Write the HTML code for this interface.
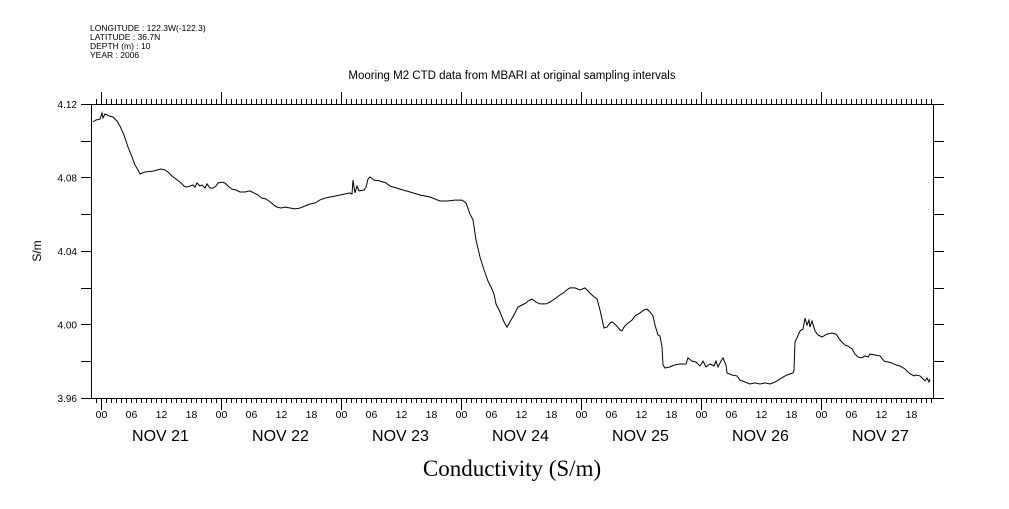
<!DOCTYPE html>
<html><head><meta charset="utf-8"><style>
body{margin:0;background:#fff;}
svg text{font-family:"Liberation Sans",sans-serif;fill:#000;}
</style></head><body>
<svg id="chart" width="1009" height="504" xmlns="http://www.w3.org/2000/svg">
<g font-size="8.5">
<text x="90" y="31">LONGITUDE : 122.3W(-122.3)</text>
<text x="90" y="40">LATITUDE : 36.7N</text>
<text x="90" y="49">DEPTH (m) : 10</text>
<text x="90" y="58">YEAR : 2006</text>
</g>
<text x="512" y="79" font-size="11.5" text-anchor="middle">Mooring M2 CTD data from MBARI at original sampling intervals</text>
<text transform="translate(41,251) rotate(-90)" font-size="12" text-anchor="middle">S/m</text>
<text x="512" y="476" font-size="23" text-anchor="middle" style="font-family:'Liberation Serif',serif">Conductivity (S/m)</text>
<g id="axes"></g>
<path id="line" fill="none" stroke="#000" stroke-width="1"/>
</svg>
<script>
const hours=[-1.5,-0.9,-0.1,0.3,0.5,0.9,1.7,2.5,3.3,3.9,4.7,5.5,6.3,6.9,7.5,7.9,8.9,10.5,12.1,12.9,13.5,14.3,15.1,15.9,16.7,17.1,17.9,18.5,18.9,19.3,19.9,20.3,20.9,21.3,21.9,22.5,23.1,23.5,24.3,24.9,25.5,26.3,27.1,27.9,28.9,29.9,30.7,31.5,32.3,33.1,33.9,34.7,35.3,36.1,36.9,37.9,38.9,39.9,40.9,41.9,42.9,43.9,44.9,45.9,46.9,47.9,48.9,49.9,50.3,50.5,50.9,51.3,51.7,52.7,53.1,53.5,53.9,54.7,55.9,57.1,57.9,59.9,61.9,63.9,65.9,67.9,69.3,70.9,72.3,73.1,73.9,74.5,75.1,75.9,76.7,77.5,78.1,78.7,79.1,79.9,80.7,81.3,81.9,82.7,83.5,84.3,85.1,85.5,86.3,87.1,87.9,89.1,89.9,91.1,91.9,92.5,93.5,93.9,94.9,95.9,96.9,97.9,98.7,99.3,99.9,100.3,100.7,101.3,101.9,102.3,103.1,103.9,104.3,104.7,105.3,106.3,106.9,107.9,108.7,109.3,109.9,110.5,110.9,111.5,111.9,112.3,112.5,112.9,113.9,114.9,115.9,117.1,117.5,118.3,119.1,119.9,120.5,121.1,121.9,122.7,123.1,123.5,124.1,124.5,125.1,125.3,126.3,127.3,127.9,128.9,129.9,130.9,131.9,132.9,133.9,134.9,135.9,136.9,137.9,138.5,138.7,138.9,139.3,139.9,140.5,140.9,141.3,141.7,141.9,142.3,142.9,143.5,144.3,145.3,146.3,147.1,147.9,148.9,149.5,150.3,150.9,151.5,152.3,152.9,153.5,153.9,154.9,155.9,156.7,157.5,158.3,159.1,159.9,160.9,161.7,162.7,163.1,163.9,164.3,164.9,165.3,165.7,165.9];
const values=[4.1102,4.1113,4.1118,4.1151,4.1124,4.1146,4.1135,4.1129,4.1107,4.1080,4.1031,4.0966,4.0912,4.0868,4.0841,4.0819,4.0830,4.0835,4.0846,4.0841,4.0830,4.0808,4.0792,4.0775,4.0754,4.0748,4.0754,4.0759,4.0748,4.0770,4.0754,4.0759,4.0743,4.0765,4.0743,4.0743,4.0754,4.0770,4.0775,4.0770,4.0754,4.0737,4.0732,4.0721,4.0721,4.0727,4.0716,4.0705,4.0688,4.0683,4.0667,4.0650,4.0639,4.0634,4.0639,4.0634,4.0629,4.0634,4.0645,4.0656,4.0661,4.0678,4.0688,4.0694,4.0699,4.0705,4.0710,4.0716,4.0710,4.0786,4.0716,4.0754,4.0727,4.0732,4.0748,4.0792,4.0803,4.0786,4.0781,4.0770,4.0754,4.0737,4.0721,4.0705,4.0694,4.0672,4.0672,4.0677,4.0677,4.0661,4.0601,4.0569,4.0460,4.0367,4.0297,4.0237,4.0204,4.0166,4.0112,4.0068,4.0014,3.9986,4.0014,4.0052,4.0095,4.0106,4.0117,4.0128,4.0139,4.0122,4.0112,4.0112,4.0122,4.0144,4.0161,4.0171,4.0193,4.0199,4.0199,4.0188,4.0199,4.0171,4.0150,4.0139,4.0079,4.0030,3.9981,3.9986,4.0008,4.0014,3.9997,3.9970,3.9965,3.9986,4.0003,4.0024,4.0046,4.0063,4.0079,4.0084,4.0068,4.0046,3.9997,3.9943,3.9937,3.9878,3.9780,3.9763,3.9769,3.9780,3.9785,3.9785,3.9818,3.9801,3.9796,3.9774,3.9801,3.9769,3.9785,3.9774,3.9801,3.9769,3.9801,3.9818,3.9780,3.9736,3.9725,3.9720,3.9698,3.9687,3.9676,3.9682,3.9676,3.9682,3.9676,3.9687,3.9703,3.9720,3.9731,3.9736,3.9752,3.9905,3.9927,3.9965,3.9975,4.0035,3.9997,4.0024,3.9986,4.0019,3.9965,3.9943,3.9932,3.9948,3.9954,3.9948,3.9916,3.9888,3.9883,3.9867,3.9839,3.9823,3.9818,3.9829,3.9823,3.9839,3.9834,3.9829,3.9801,3.9796,3.9790,3.9780,3.9774,3.9758,3.9736,3.9720,3.9725,3.9720,3.9709,3.9693,3.9709,3.9687,3.9703];
const yTicks=[3.96,4.00,4.04,4.08,4.12];
const yTickLabels=["3.96","4.00","4.04","4.08","4.12"];
const dayLabels=["NOV 21","NOV 22","NOV 23","NOV 24","NOV 25","NOV 26","NOV 27"];
const hourLabels=["00","06","12","18"];

const L=91,R=933,T=104,B=398;
const xs=h=>100.5+5*h;
const ys=v=>B-(v-3.96)/0.16*(B-T);
const NS="http://www.w3.org/2000/svg";
const ax=document.getElementById('axes');
function line(x1,y1,x2,y2,name){const e=document.createElementNS(NS,'line');e.setAttribute('x1',x1);e.setAttribute('y1',y1);e.setAttribute('x2',x2);e.setAttribute('y2',y2);e.setAttribute('stroke','#000');e.setAttribute('stroke-width','1');


ax.appendChild(e);return e;}
function text(x,y,s,size,anchor,name){const e=document.createElementNS(NS,'text');e.setAttribute('x',x);e.setAttribute('y',y);e.setAttribute('font-size',size);e.setAttribute('text-anchor',anchor);e.textContent=s;


ax.appendChild(e);}
const f=document.createElementNS(NS,'rect');f.setAttribute('x',L+0.5);f.setAttribute('y',T+0.5);f.setAttribute('width',R-L);f.setAttribute('height',B-T);f.setAttribute('fill','none');f.setAttribute('stroke','#000');


ax.appendChild(f);
// y ticks every 0.02
for(let i=0;i<=8;i++){const y=Math.round(ys(3.96+i*0.02))+0.5;line(L-10,y,L,y,'y-tick-left');line(R,y,R+11,y,'y-tick-right');}
yTicks.forEach((v,i)=>text(L-14,ys(v)+4,yTickLabels[i],10,'end','y-tick-label'));
// x ticks hourly
for(let h=-1;h<=166;h++){const x=Math.round(xs(h))+0.5;if(x<L||x>R)continue;const major=(h%24===0);
line(x,B,x,B+(major?12:5),'x-tick-bottom');line(x,T,x,T-(major?12:5),'x-tick-top');
if(h%6===0&&h>=0)text(x,B+20,hourLabels[(h/6)%4],10.5,'middle','x-hour-label');}
dayLabels.forEach((d,i)=>text(xs(i*24+12),B+43,d,16,'middle','x-day-label'));
document.getElementById('line').setAttribute('d',hours.map((h,i)=>(i?'L':'M')+xs(h).toFixed(1)+','+ys(values[i]).toFixed(1)).join(''));
</script>
</body></html>
